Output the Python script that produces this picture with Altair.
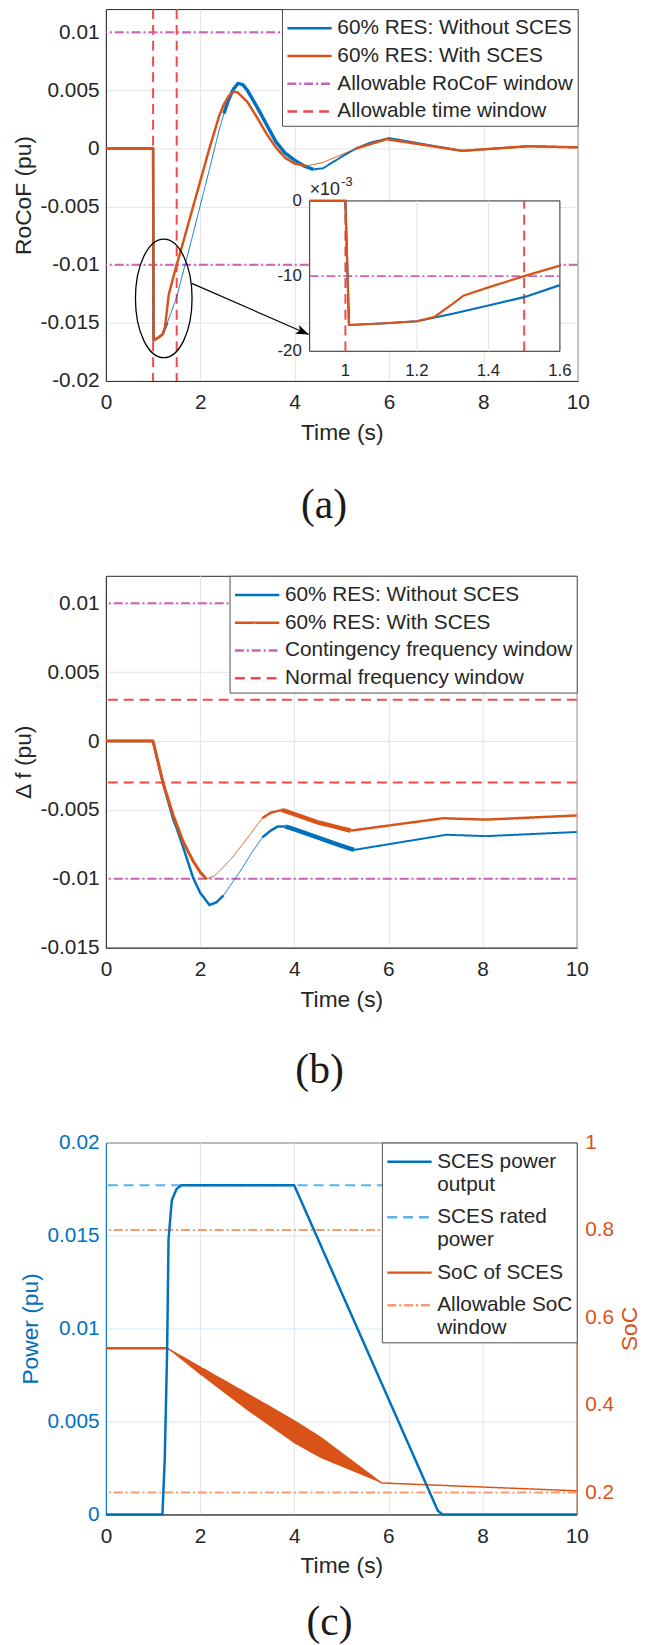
import math
import altair as alt
import pandas as pd

# ===================== DATA =====================
X_DOMAIN = [0, 10]
X_TICKS = [0, 2, 4, 6, 8, 10]

# ---- (a) RoCoF ----
A_SERIES = ["60% RES: Without SCES", "60% RES: With SCES",
            "Allowable RoCoF window", "Allowable time window"]
A_Y_DOMAIN = [-0.02, 0.012]
A_Y_TICKS = [-0.02, -0.015, -0.01, -0.005, 0, 0.005, 0.01]
A_ROCOF_WINDOW = [-0.01, 0.01]
A_TIME_WINDOW = [1.0, 1.5]

A_T_BLUE = [0, 0.9, 1.0, 1.01, 1.1, 1.2, 1.3, 1.4, 1.5, 1.6, 1.8, 2.0, 2.2, 2.4, 2.5,
            2.6, 2.7, 2.8, 2.9, 3.0, 3.2, 3.4, 3.6, 3.8, 4.0, 4.2, 4.4, 4.6, 4.8,
            5.0, 5.3, 5.6, 6.0, 7.55, 8.95, 10]
A_V_BLUE = [0, 0, 0, -0.0165, -0.0163, -0.0160, -0.0150, -0.0139, -0.0128, -0.0112,
            -0.0081, -0.0049, -0.0017, 0.0016, 0.0030, 0.0042, 0.0051, 0.0056,
            0.0055, 0.0050, 0.0036, 0.0021, 0.0006, -0.0004, -0.0010, -0.0015,
            -0.0018, -0.0017, -0.0012, -0.0007, 0.0000, 0.0005, 0.0009, -0.0002,
            0.0002, 0.0001]
A_T_ORANGE = [0, 0.9, 1.0, 1.01, 1.1, 1.2, 1.25, 1.3, 1.33, 1.4, 1.5, 1.6, 1.8, 2.0,
              2.2, 2.4, 2.5, 2.6, 2.7, 2.8, 3.0, 3.2, 3.4, 3.6, 3.8, 4.0, 4.25, 4.6,
              5.3, 5.95, 7.55, 8.95, 10]
A_V_ORANGE = [0, 0, 0, -0.0165, -0.0163, -0.0160, -0.0154, -0.0137, -0.0126, -0.0115,
              -0.0100, -0.0086, -0.0057, -0.0028, 0.0001, 0.0028, 0.0038, 0.0045,
              0.0049, 0.0048, 0.0040, 0.0027, 0.0013, 0.0001, -0.0008, -0.0013,
              -0.0015, -0.0012, 0.0000, 0.0008, -0.0002, 0.0002, 0.0001]
A_BLUE_BREAKS = [1.3, 2.5, 4.4]
A_ORANGE_BREAKS = [4.25, 5.3]

# inset of (a)
IN_X_DOMAIN = [0.9, 1.6]
IN_Y_DOMAIN = [-0.02, 0]
IN_X_TICKS = [1, 1.2, 1.4, 1.6]
IN_Y_TICKS = [0, -0.01, -0.02]
IN_X_GRID = [1.2, 1.4]
IN_EXPONENT = "-3"

# zoom annotation (ellipse + arrow), in data units of (a)
ELLIPSE_CENTER = [1.226, -0.0129]
ELLIPSE_HALF = [0.6, 0.0051]
ARROW_T = [1.82, 4.30]
ARROW_V = [-0.0116, -0.0160]

# ---- (b) frequency deviation ----
B_SERIES = ["60% RES: Without SCES", "60% RES: With SCES",
            "Contingency frequency window", "Normal frequency window"]
B_Y_DOMAIN = [-0.015, 0.012]
B_Y_TICKS = [-0.015, -0.01, -0.005, 0, 0.005, 0.01]
B_CONT_WINDOW = [-0.01, 0.01]
B_NORMAL_WINDOW = [-0.003, 0.003]
B_T_BLUE = [0, 1.0, 1.2, 1.43, 1.5, 1.64, 1.85, 2.0, 2.2, 2.35, 2.5, 2.7, 2.9, 3.1,
            3.32, 3.5, 3.65, 3.81, 4.0, 4.5, 5.0, 5.27, 7.23, 8.07, 10]
B_V_BLUE = [0, 0, -0.0029, -0.0057, -0.0063, -0.0077, -0.0099, -0.0110, -0.0119,
            -0.0117, -0.0112, -0.0102, -0.0092, -0.0081, -0.0070, -0.0065, -0.0062,
            -0.0062, -0.0064, -0.0070, -0.0076, -0.0079, -0.0068, -0.0069, -0.0066]
B_T_ORANGE = [0, 1.0, 1.22, 1.43, 1.64, 1.85, 2.0, 2.13, 2.3, 2.48, 2.7, 2.9, 3.1,
              3.32, 3.5, 3.74, 4.0, 4.5, 5.2, 7.16, 8.07, 10]
B_V_ORANGE = [0, 0, -0.0031, -0.0054, -0.0073, -0.0087, -0.0095, -0.0100, -0.0098,
              -0.0092, -0.0084, -0.0075, -0.0066, -0.0056, -0.0052, -0.0050, -0.0053,
              -0.0059, -0.0065, -0.0056, -0.0057, -0.0054]
B_BLUE_BREAKS = [2.5, 3.32, 3.81, 5.27]
B_ORANGE_BREAKS = [2.13, 3.32, 3.74, 5.2]

# ---- (c) SCES power and SoC ----
C_SERIES = ["SCES power output", "SCES rated power", "SoC of SCES", "Allowable SoC window"]
C_LABEL_LINES = {"SCES power output": ["SCES power", "output"],
                 "SCES rated power": ["SCES rated", "power"],
                 "Allowable SoC window": ["Allowable SoC", "window"]}
C_P_DOMAIN = [0, 0.02]
C_P_TICKS = [0, 0.005, 0.01, 0.015, 0.02]
C_SOC_DOMAIN = [0.15, 1]
C_SOC_TICKS = [0.2, 0.4, 0.6, 0.8, 1]
C_RATED = [0.0177]
C_SOC_WINDOW = [0.2, 0.8]
C_T_POWER = [0, 1.2, 1.25, 1.3, 1.33, 1.4, 1.5, 1.6, 4.0, 7.05, 7.15, 10]
C_V_POWER = [0, 0, 0.0030, 0.0088, 0.0148, 0.0169, 0.0175, 0.0177, 0.0177, 0.0002, 0, 0]
C_T_SOC = [0, 1.3, 2, 3, 4, 4.56, 5.85, 10]
C_V_SOC = [0.53, 0.53, 0.487, 0.426, 0.364, 0.326, 0.222, 0.204]
C_T_SOC_BAND = [1.3, 2, 3, 4, 4.56, 5.85]
C_V_SOC_LOW = [0.53, 0.470, 0.388, 0.313, 0.279, 0.222]
C_SOC_BREAKS = [1.3, 5.85]

# ===================== STYLE =====================
SANS = "Liberation Sans"
SERIF = "Liberation Serif"
BLUE, ORANGE = "#0072BD", "#D95319"
MAGENTA, RED = "#C864B4", "#EF4B4B"
LBLUE, SALMON = "#56B4E9", "#F59B6E"
INK = "#262626"
GRID = "#E3E3E3"
GRID_BLUE = "#D6E7F4"
SOLID, DASH, DASHDOT = [1, 0], [10, 6], [9, 3, 2, 3]
W_A, W_B, W_C, H = 477, 476, 476, 376
IN_PX_X = [206, 459]   # inset frame inside panel (a), pixels
IN_PX_Y = [346, 194]
LEGEND_LINE = "M-1,0L2.2,0"   # legend sample: a 45 px line in a 28 px row

A_BLUE_W, A_ORANGE_W = [2.5, 1.0, 3.5, 2.0], [2.5, 1.0, 2.5]
B_BLUE_W, B_ORANGE_W = [2.5, 1.0, 2.5, 4.5, 2.0], [3.0, 1.0, 2.5, 4.5, 2.5]
C_SOC_W = [2.5, 1.5, 1.5]


def segs(t, v, breaks, widths, series):
    bounds = [t[0]] + list(breaks) + [t[-1]]
    rows = []
    for i, w in enumerate(widths):
        for tt, vv in zip(t, v):
            if bounds[i] <= tt <= bounds[i + 1]:
                rows.append({"t": tt, "v": vv, "series": series, "seg": i, "w": w})
    return pd.DataFrame(rows)


def x_enc():
    return alt.X("t:Q", scale=alt.Scale(domain=X_DOMAIN, nice=False, zero=False),
                 axis=alt.Axis(values=X_TICKS, title="Time (s)", grid=True, gridColor=GRID,
                               labelPadding=11, titlePadding=9))


def y_enc(domain, ticks, title):
    return alt.Y("v:Q", scale=alt.Scale(domain=domain, nice=False, zero=False),
                 axis=alt.Axis(values=ticks, title=title, grid=True, gridColor=GRID,
                               labelExpr="'' + datum.value", labelPadding=7, titlePadding=5))


def style_enc(series, colors, dashes, label_expr=None, row_pad=2):
    if label_expr is None:
        leg = alt.Legend(title=None, rowPadding=row_pad)
    else:
        leg = alt.Legend(title=None, labelExpr=label_expr, rowPadding=row_pad)
    color = alt.Color("series:N", scale=alt.Scale(domain=series, range=colors), legend=leg)
    dash = alt.StrokeDash("series:N", scale=alt.Scale(domain=series, range=dashes), legend=leg)
    return color, dash


def seg_line(df, x, y, color, dash):
    return alt.Chart(df).mark_line(strokeJoin="round").encode(
        x=x, y=y, color=color, strokeDash=dash, detail="seg:N",
        strokeWidth=alt.StrokeWidth("w:Q", scale=None, legend=None))


def caption(text, offset, dx):
    return alt.TitleParams(text, orient="bottom", anchor="middle", frame="group",
                           font=SERIF, fontSize=42, fontWeight="normal", color="#1a1a1a",
                           offset=offset, dx=dx, baseline="top")


# ===================== PANEL (a) =====================
xa = x_enc()
ya = y_enc(A_Y_DOMAIN, A_Y_TICKS, "RoCoF (pu)")
ca, da = style_enc(A_SERIES, [BLUE, ORANGE, MAGENTA, RED], [SOLID, SOLID, DASHDOT, DASH])

a_h = alt.Chart(pd.DataFrame({"v": A_ROCOF_WINDOW, "series": A_SERIES[2]})).mark_rule(
    strokeWidth=2).encode(y=ya, color=ca, strokeDash=da)
a_v = alt.Chart(pd.DataFrame({"t": A_TIME_WINDOW, "series": A_SERIES[3]})).mark_rule(
    strokeWidth=2).encode(x=xa, color=ca, strokeDash=da)
a_blue = seg_line(segs(A_T_BLUE, A_V_BLUE, A_BLUE_BREAKS, A_BLUE_W, A_SERIES[0]), xa, ya, ca, da)
a_orange = seg_line(segs(A_T_ORANGE, A_V_ORANGE, A_ORANGE_BREAKS, A_ORANGE_W, A_SERIES[1]), xa, ya, ca, da)

# ellipse marker
rx_px = ELLIPSE_HALF[0] / (X_DOMAIN[1] - X_DOMAIN[0]) * W_A
ry_px = ELLIPSE_HALF[1] / (A_Y_DOMAIN[1] - A_Y_DOMAIN[0]) * H
r = max(rx_px, ry_px)
ex, ey = rx_px / r, ry_px / r
ell_path = f"M0,{-ey:.4f}A{ex:.4f},{ey:.4f},0,1,1,0,{ey:.4f}A{ex:.4f},{ey:.4f},0,1,1,0,{-ey:.4f}Z"
a_ell = alt.Chart(pd.DataFrame({"t": [ELLIPSE_CENTER[0]], "v": [ELLIPSE_CENTER[1]]})).mark_point(
    shape=ell_path, size=(2 * r) ** 2, filled=False, color="black", strokeWidth=1.3, opacity=1
).encode(x=xa, y=ya)

# arrow
a_arrow = alt.Chart(pd.DataFrame({"t": ARROW_T, "v": ARROW_V})).mark_line(
    color="black", strokeWidth=1.2).encode(x=xa, y=ya)
dxp = (ARROW_T[1] - ARROW_T[0]) / (X_DOMAIN[1] - X_DOMAIN[0]) * W_A
dyp = -(ARROW_V[1] - ARROW_V[0]) / (A_Y_DOMAIN[1] - A_Y_DOMAIN[0]) * H
ang = math.degrees(math.atan2(dyp, dxp))
a_head = alt.Chart(pd.DataFrame({"t": [ARROW_T[1]], "v": [ARROW_V[1]]})).mark_point(
    shape="M0,0L-2,-0.75L-1.5,0L-2,0.75Z", size=169, filled=True, color="black",
    strokeWidth=0, opacity=1, angle=ang).encode(x=xa, y=ya)

main_a = alt.layer(a_h, a_v, a_blue, a_orange, a_ell, a_arrow, a_head)

# inset
ix = alt.X("t:Q", scale=alt.Scale(domain=IN_X_DOMAIN, range=IN_PX_X, nice=False, zero=False), axis=None)
iy = alt.Y("v:Q", scale=alt.Scale(domain=IN_Y_DOMAIN, range=IN_PX_Y, nice=False, zero=False), axis=None)

in_box = alt.Chart(pd.DataFrame({"t": [IN_X_DOMAIN[0]], "t2": [IN_X_DOMAIN[1]],
                                 "v": [IN_Y_DOMAIN[0]], "v2": [IN_Y_DOMAIN[1]]})).mark_rect(
    fill="white", stroke=INK, strokeWidth=1).encode(x=ix, x2="t2:Q", y=iy, y2="v2:Q")
in_grid = alt.Chart(pd.DataFrame({"t": IN_X_GRID, "v": IN_Y_DOMAIN[0], "v2": IN_Y_DOMAIN[1]})).mark_rule(
    color=GRID, strokeWidth=1).encode(x=ix, y=iy, y2="v2:Q")
in_tw = alt.Chart(pd.DataFrame({"t": A_TIME_WINDOW, "v": IN_Y_DOMAIN[0], "v2": IN_Y_DOMAIN[1]})).mark_rule(
    color=RED, strokeDash=DASH, strokeWidth=2).encode(x=ix, y=iy, y2="v2:Q")
in_rw = alt.Chart(pd.DataFrame({"t": [IN_X_DOMAIN[0]], "t2": [IN_X_DOMAIN[1]],
                                "v": [A_ROCOF_WINDOW[0]]})).mark_rule(
    color=MAGENTA, strokeDash=DASHDOT, strokeWidth=2).encode(x=ix, x2="t2:Q", y=iy)


def inset_df(t, v):
    df = pd.DataFrame({"t": t, "v": v})
    return df[(df.t >= IN_X_DOMAIN[0]) & (df.t <= IN_X_DOMAIN[1])]


in_blue = alt.Chart(inset_df(A_T_BLUE, A_V_BLUE)).mark_line(color=BLUE, strokeWidth=2.2).encode(x=ix, y=iy)
in_orange = alt.Chart(inset_df(A_T_ORANGE, A_V_ORANGE)).mark_line(color=ORANGE, strokeWidth=2.2).encode(x=ix, y=iy)
in_xl = alt.Chart(pd.DataFrame({"t": IN_X_TICKS, "v": IN_Y_DOMAIN[0],
                                "label": [f"{x:g}" for x in IN_X_TICKS]})).mark_text(
    font=SANS, fontSize=17, color=INK, dy=20, baseline="middle", align="center").encode(x=ix, y=iy, text="label:N")
in_yl = alt.Chart(pd.DataFrame({"t": IN_X_DOMAIN[0], "v": IN_Y_TICKS,
                                "label": [f"{round(v * 1000):d}" for v in IN_Y_TICKS]})).mark_text(
    font=SANS, fontSize=17, color=INK, dx=-8, baseline="middle", align="right").encode(x=ix, y=iy, text="label:N")
in_exp = alt.Chart(pd.DataFrame({"t": [IN_X_DOMAIN[0]], "v": [IN_Y_DOMAIN[1]], "label": ["\u00d710"]})).mark_text(
    font=SANS, fontSize=18, color=INK, dy=-6, baseline="alphabetic", align="left").encode(x=ix, y=iy, text="label:N")
in_exp2 = alt.Chart(pd.DataFrame({"t": [IN_X_DOMAIN[0]], "v": [IN_Y_DOMAIN[1]], "label": [IN_EXPONENT]})).mark_text(
    font=SANS, fontSize=13, color=INK, dx=32, dy=-15, baseline="alphabetic", align="left").encode(x=ix, y=iy, text="label:N")

inset_a = alt.layer(in_box, in_grid, in_tw, in_rw, in_blue, in_orange, in_xl, in_yl, in_exp, in_exp2)

panel_a = alt.layer(main_a, inset_a).resolve_scale(x="independent", y="independent").properties(
    width=W_A, height=H, title=caption("(a)", 42, -18))

# ===================== PANEL (b) =====================
xb = x_enc()
yb = y_enc(B_Y_DOMAIN, B_Y_TICKS, "\u0394 f (pu)")
cb, db = style_enc(B_SERIES, [BLUE, ORANGE, MAGENTA, RED], [SOLID, SOLID, DASHDOT, DASH])
b_cont = alt.Chart(pd.DataFrame({"v": B_CONT_WINDOW, "series": B_SERIES[2]})).mark_rule(
    strokeWidth=2).encode(y=yb, color=cb, strokeDash=db)
b_norm = alt.Chart(pd.DataFrame({"v": B_NORMAL_WINDOW, "series": B_SERIES[3]})).mark_rule(
    strokeWidth=2).encode(y=yb, color=cb, strokeDash=db)
b_blue = seg_line(segs(B_T_BLUE, B_V_BLUE, B_BLUE_BREAKS, B_BLUE_W, B_SERIES[0]), xb, yb, cb, db)
b_orange = seg_line(segs(B_T_ORANGE, B_V_ORANGE, B_ORANGE_BREAKS, B_ORANGE_W, B_SERIES[1]), xb, yb, cb, db)
panel_b = alt.layer(b_cont, b_norm, b_blue, b_orange).properties(
    width=W_B, height=H, title=caption("(b)", 40, -22))

# ===================== PANEL (c) =====================
xc = x_enc()
label_expr = ""
for k, lines in C_LABEL_LINES.items():
    label_expr += "datum.label == '%s' ? [%s] : " % (k, ", ".join("'%s'" % s for s in lines))
label_expr += "datum.label"
cc, dc = style_enc(C_SERIES, [BLUE, LBLUE, ORANGE, SALMON], [SOLID, DASH, SOLID, DASHDOT],
                   label_expr, row_pad=7)

yp = alt.Y("v:Q", scale=alt.Scale(domain=C_P_DOMAIN, nice=False, zero=False),
           axis=alt.Axis(orient="left", values=C_P_TICKS, title="Power (pu)", grid=True,
                         gridColor=GRID_BLUE, labelExpr="'' + datum.value", labelColor=BLUE,
                         titleColor=BLUE, domainColor=BLUE, labelPadding=7, titlePadding=5))
ys = alt.Y("v:Q", scale=alt.Scale(domain=C_SOC_DOMAIN, nice=False, zero=False),
           axis=alt.Axis(orient="right", values=C_SOC_TICKS, title="SoC", grid=False,
                         labelExpr="'' + datum.value", labelColor=ORANGE, titleColor=ORANGE,
                         domainColor=ORANGE, labelPadding=8, titlePadding=5,
                         titleAngle=270, titleBaseline="top"))

soc_up = dict(zip(C_T_SOC, C_V_SOC))
band_df = pd.DataFrame({"t": C_T_SOC_BAND, "v": [soc_up[t] for t in C_T_SOC_BAND], "v2": C_V_SOC_LOW})

c_win = alt.Chart(pd.DataFrame({"v": C_SOC_WINDOW, "series": C_SERIES[3]})).mark_rule(
    strokeWidth=2).encode(y=ys, color=cc, strokeDash=dc)
c_band = alt.Chart(band_df).mark_area(color=ORANGE, opacity=1).encode(x=xc, y=ys, y2="v2:Q")
c_soc = seg_line(segs(C_T_SOC, C_V_SOC, C_SOC_BREAKS, C_SOC_W, C_SERIES[2]), xc, ys, cc, dc)
right_c = alt.layer(c_win, c_band, c_soc)

c_rated = alt.Chart(pd.DataFrame({"v": C_RATED, "series": C_SERIES[1]})).mark_rule(
    strokeWidth=2).encode(y=yp, color=cc, strokeDash=dc)
c_pow = alt.Chart(pd.DataFrame({"t": C_T_POWER, "v": C_V_POWER, "series": C_SERIES[0]})).mark_line(
    strokeWidth=2.5, strokeJoin="round").encode(x=xc, y=yp, color=cc, strokeDash=dc)
left_c = alt.layer(c_rated, c_pow)

panel_c = alt.layer(right_c, left_c).resolve_scale(y="independent").properties(
    width=W_C, height=H, title=caption("(c)", 25, -12))

# ===================== ASSEMBLY =====================
chart = alt.vconcat(panel_a, panel_b, panel_c, spacing=197, bounds="flush").resolve_scale(
    color="independent", strokeDash="independent"
).resolve_legend(
    color="independent", strokeDash="independent"
).properties(
    padding={"left": 3, "top": -10, "right": 0, "bottom": 0}
).configure(font=SANS).configure_view(
    stroke=INK, strokeWidth=1
).configure_axis(
    labelFont=SANS, labelFontSize=21, titleFont=SANS, titleFontSize=23, titleFontWeight="normal",
    labelColor=INK, titleColor=INK, domainColor=INK, ticks=False, gridWidth=1, labelFlush=False
).configure_legend(
    orient="top-right", offset=0, padding=4, strokeColor="#4D4D4D", fillColor="white",
    labelFont=SANS, labelFontSize=21, labelColor=INK, symbolType=LEGEND_LINE, symbolSize=784,
    symbolStrokeWidth=2.5, labelOffset=21, labelLimit=500, cornerRadius=0
)

chart.save("out.html", embed_options={"renderer": "svg", "actions": False})
